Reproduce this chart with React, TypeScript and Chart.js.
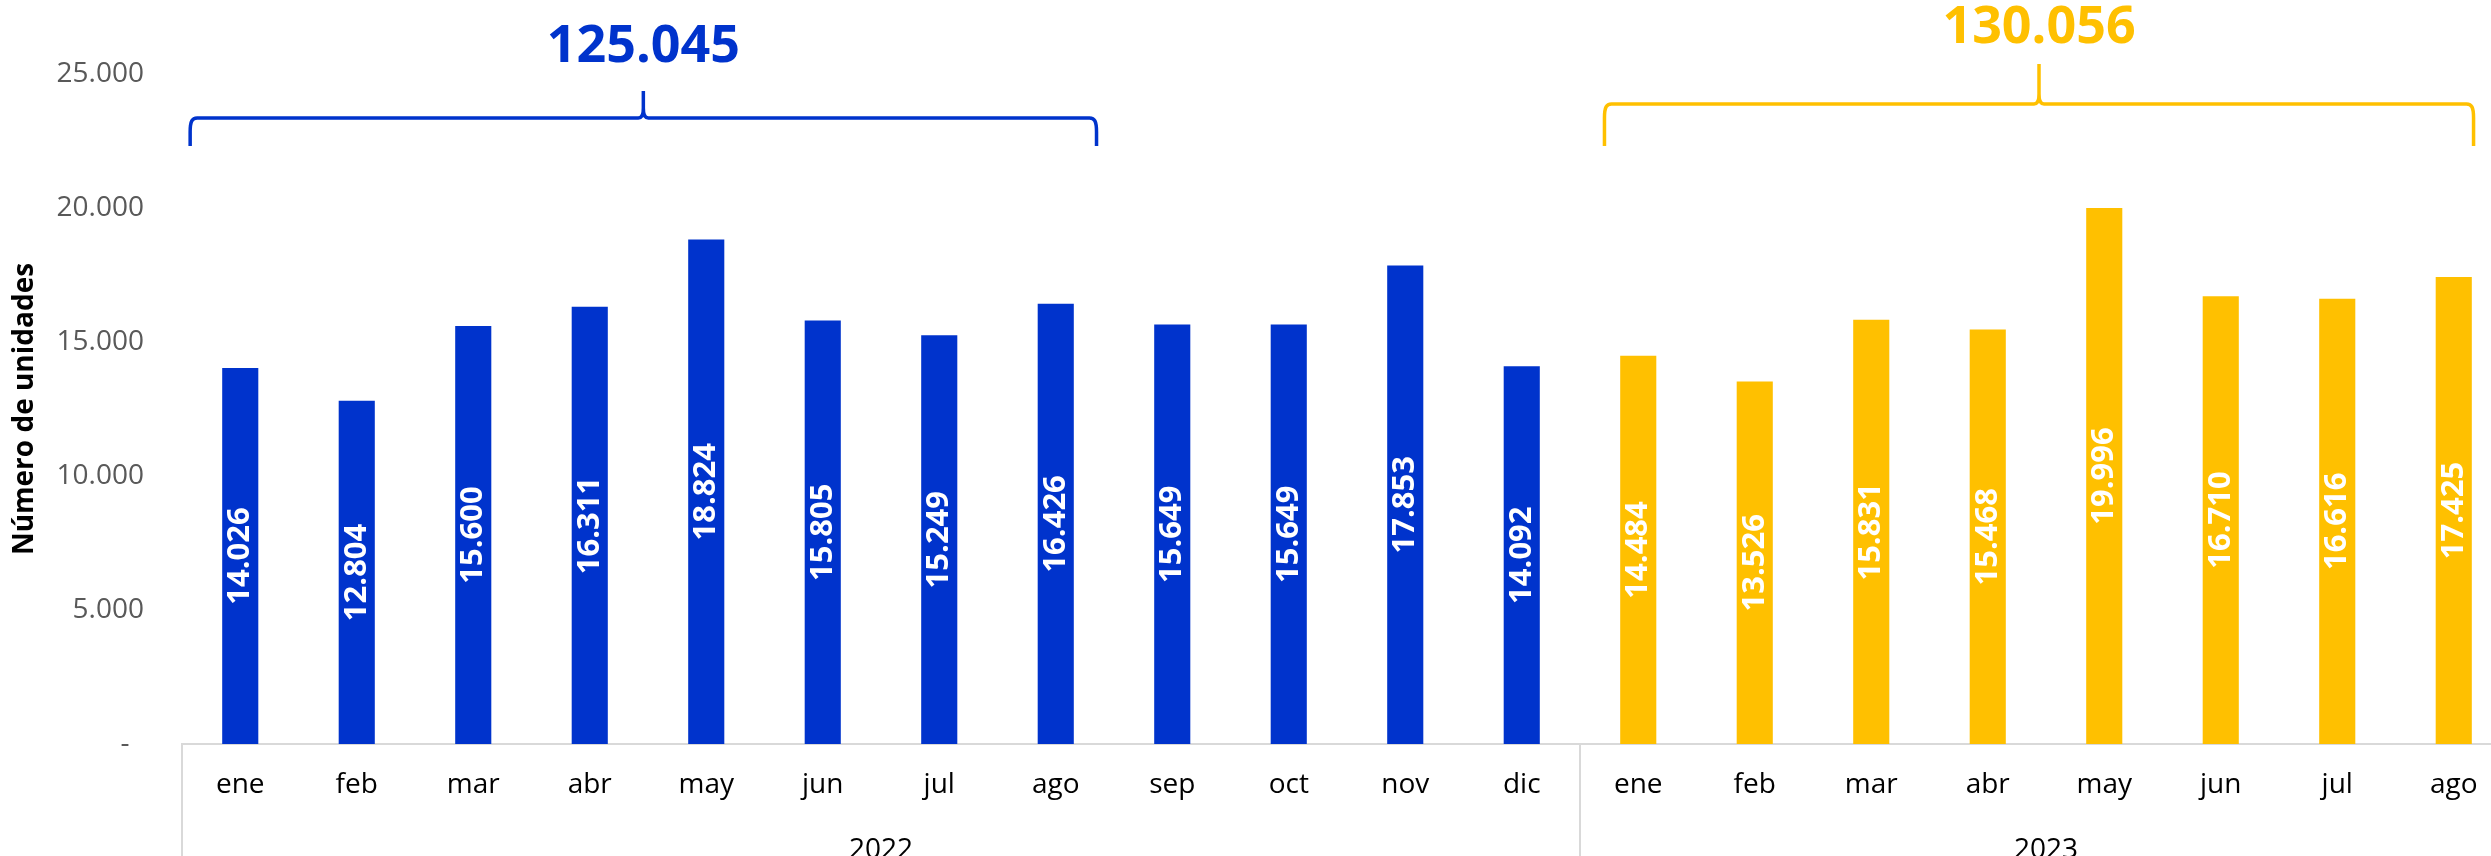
import React, { useEffect, useRef } from 'react';
import { Chart, registerables } from 'chart.js';

Chart.register(...registerables);

// ---- data ----
const months2022 = ['ene', 'feb', 'mar', 'abr', 'may', 'jun', 'jul', 'ago', 'sep', 'oct', 'nov', 'dic'];
const months2023 = ['ene', 'feb', 'mar', 'abr', 'may', 'jun', 'jul', 'ago'];
const years = ['2022', '2023'];
const values2022 = [14026, 12804, 15600, 16311, 18824, 15805, 15249, 16426, 15649, 15649, 17853, 14092];
const values2023 = [14484, 13526, 15831, 15468, 19996, 16710, 16616, 17425];
const totals = [125045, 130056];
const yTickValues = [0, 5000, 10000, 15000, 20000, 25000];

// ---- styles ----
const BLUE = '#0033CC';
const YELLOW = '#FFC000';
const FONT = "'Open Sans', 'Noto Sans', sans-serif";

const fmt = (n: number) => (n === 0 ? '-  ' : String(n).replace(/\B(?=(\d{3})+(?!\d))/g, '.'));

const labels = [...months2022, ...months2023];
const allValues = [...values2022, ...values2023];
const colors = [...values2022.map(() => BLUE), ...values2023.map(() => YELLOW)];
const groups = [
  { label: years[0], start: 0, end: months2022.length - 1, color: BLUE },
  { label: years[1], start: months2022.length, end: months2022.length + months2023.length - 1, color: YELLOW },
];

// brace geometry (category-index units horizontally, pixels from chart top vertically)
const braceStyle = [
  { from: -0.43, to: 7.35, lineOff: 44, tipOff: 17, endOff: 72, textOff: -27, weight: 'bold' },
  { from: 11.71, to: 19.17, lineOff: 30, tipOff: -10, endOff: 72, textOff: -46, weight: 'bold' },
];

function drawBrace(ctx: CanvasRenderingContext2D, x1: number, x2: number, yLine: number, yTip: number, yEnd: number) {
  const xm = (x1 + x2) / 2;
  const rx = 7;
  const ry = 14;
  ctx.beginPath();
  ctx.moveTo(x1, yEnd);
  ctx.lineTo(x1, yLine + ry);
  ctx.bezierCurveTo(x1, yLine + 3, x1 + 2, yLine, x1 + rx, yLine);
  ctx.lineTo(xm - 5, yLine);
  ctx.bezierCurveTo(xm - 1, yLine, xm, yLine - 4, xm, yLine - 10);
  ctx.lineTo(xm, yTip);
  ctx.moveTo(xm, yLine - 10);
  ctx.bezierCurveTo(xm, yLine - 4, xm + 1, yLine, xm + 5, yLine);
  ctx.lineTo(x2 - rx, yLine);
  ctx.bezierCurveTo(x2 - 2, yLine, x2, yLine + 3, x2, yLine + ry);
  ctx.lineTo(x2, yEnd);
  ctx.stroke();
}

const customPlugin = {
  id: 'customDecor',
  afterDatasetsDraw(chart: any) {
    const ctx: CanvasRenderingContext2D = chart.ctx;
    const meta = chart.getDatasetMeta(0);
    ctx.save();
    ctx.fillStyle = '#FFFFFF';
    ctx.font = `bold 31px ${FONT}`;
    ctx.textAlign = 'center';
    ctx.textBaseline = 'middle';
    meta.data.forEach((bar: any, i: number) => {
      const p = bar.getProps(['x', 'y', 'base'], true);
      ctx.save();
      ctx.translate(p.x, (p.y + p.base) / 2);
      ctx.rotate(-Math.PI / 2);
      ctx.fillText(fmt(allValues[i]), 0, 0);
      ctx.restore();
    });
    ctx.restore();
  },
  afterDraw(chart: any) {
    const ctx: CanvasRenderingContext2D = chart.ctx;
    const xs = chart.scales.x;
    const area = chart.chartArea;
    const bottom = chart.height;
    ctx.save();
    // group separators
    ctx.strokeStyle = '#D9D9D9';
    ctx.lineWidth = 2;
    const bounds = [groups[0].start - 0.5, ...groups.map((g) => g.end + 0.5)];
    bounds.forEach((b) => {
      const px = xs.getPixelForValue(b);
      ctx.beginPath();
      ctx.moveTo(px, area.bottom);
      ctx.lineTo(px, bottom);
      ctx.stroke();
    });
    // year labels
    ctx.fillStyle = '#000000';
    ctx.font = `28px ${FONT}`;
    ctx.textAlign = 'center';
    ctx.textBaseline = 'alphabetic';
    groups.forEach((g) => {
      const cx = (xs.getPixelForValue(g.start - 0.5) + xs.getPixelForValue(g.end + 0.5)) / 2;
      ctx.fillText(g.label, cx, area.bottom + 114);
    });
    // braces + totals
    groups.forEach((g, gi) => {
      const s = braceStyle[gi];
      const x1 = xs.getPixelForValue(s.from);
      const x2 = xs.getPixelForValue(s.to);
      ctx.strokeStyle = g.color;
      ctx.lineWidth = 3.5;
      ctx.lineJoin = 'round';
      drawBrace(ctx, x1, x2, area.top + s.lineOff, area.top + s.tipOff, area.top + s.endOff);
      ctx.fillStyle = g.color;
      ctx.font = `${s.weight} 52px ${FONT}`;
      ctx.textAlign = 'center';
      ctx.textBaseline = 'middle';
      ctx.fillText(fmt(totals[gi]), (x1 + x2) / 2, area.top + s.textOff);
    });
    ctx.restore();
  },
};

export default function App() {
  const canvasRef = useRef<HTMLCanvasElement | null>(null);

  useEffect(() => {
    const canvas = canvasRef.current;
    if (!canvas) return;
    const chart = new Chart(canvas, {
      type: 'bar',
      data: {
        labels,
        datasets: [
          {
            data: allValues,
            backgroundColor: colors,
            borderWidth: 0,
            categoryPercentage: 1,
            barPercentage: 0.31,
          },
        ],
      },
      options: {
        responsive: false,
        animation: false,
        events: [],
        layout: { padding: { top: 74, right: 48, left: 0, bottom: 0 } },
        plugins: {
          legend: { display: false },
          tooltip: { enabled: false },
        },
        scales: {
          x: {
            grid: { display: false, drawTicks: false },
            border: { display: true, color: '#D9D9D9', width: 2 },
            ticks: {
              color: '#000000',
              font: { family: FONT, size: 28 },
              padding: 24,
              maxRotation: 0,
              autoSkip: false,
            },
            afterFit: (s: any) => {
              s.height = 156;
            },
          },
          y: {
            min: 0,
            max: 25000,
            afterBuildTicks: (s: any) => {
              s.ticks = yTickValues.map((v) => ({ value: v }));
            },
            ticks: {
              callback: (v: any) => fmt(Number(v)),
              color: '#595959',
              font: { family: FONT, size: 28 },
              padding: 38,
            },
            grid: { display: false, drawTicks: false },
            border: { display: false },
            title: {
              display: true,
              text: 'Número de unidades',
              color: '#000000',
              font: { family: FONT, size: 28, weight: 'bold' },
              padding: { top: 8, bottom: 0 },
            },
            afterFit: (s: any) => {
              s.width = 182;
            },
          },
        },
      },
      plugins: [customPlugin],
    } as any);
    return () => chart.destroy();
  }, []);

  return (
    <div style={{ position: 'fixed', left: 0, top: 0, width: 2560, height: 900, background: '#fff' }}>
      <canvas ref={canvasRef} width={2560} height={900} style={{ display: 'block', width: 2560, height: 900 }} />
    </div>
  );
}
